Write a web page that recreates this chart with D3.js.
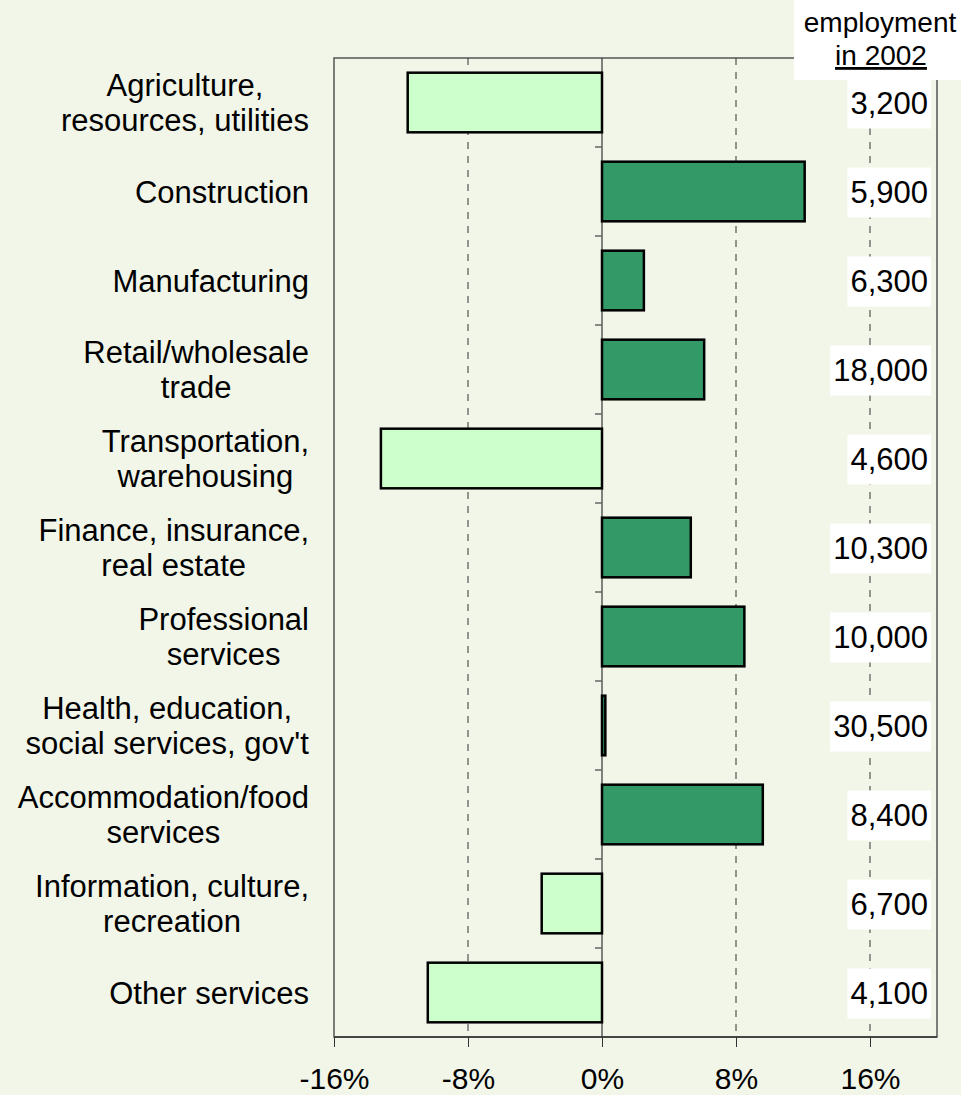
<!DOCTYPE html>
<html lang="en">
<head>
<meta charset="UTF-8">
<title>Employment change by industry</title>
<style>
    body { margin: 0; background: #f1f6e9; }
    svg { display: block; font-family: 'Liberation Sans', Arial, sans-serif; }
    .cat { font-size: 31px; fill: #000; }
</style>
</head>
<body>
<svg width="961" height="1095"></svg>
<script src="https://d3js.org/d3.v7.min.js"></script>
<script>
    // categories, change in employment (%) and 2002 employment
    const categories = [
        ["Agriculture,", "resources, utilities"],
        ["Construction"],
        ["Manufacturing"],
        ["Retail/wholesale", "trade"],
        ["Transportation,", "warehousing"],
        ["Finance, insurance,", "real estate"],
        ["Professional", "services"],
        ["Health, education,", "social services, gov't"],
        ["Accommodation/food", "services"],
        ["Information, culture,", "recreation"],
        ["Other services"]
    ];
    const change = [-11.6, 12.1, 2.5, 6.1, -13.2, 5.3, 8.5, 0.2, 9.6, -3.6, -10.4];
    const employment = ["3,200", "5,900", "6,300", "18,000", "4,600", "10,300", "10,000", "30,500", "8,400", "6,700", "4,100"];
    const xTicks = [-16, -8, 0, 8, 16];

    const svg = d3.select("svg");
    const m = { left: 334, right: 937, top: 58, bottom: 1037 };

    const x = d3.scaleLinear().domain([-16, 20]).range([m.left, m.right]);
    const y = d3.scaleBand().domain(d3.range(categories.length))
        .range([m.top, m.bottom]).paddingInner(0.33).paddingOuter(0.165);
    const step = y.step();

    // plot frame
    svg.append("rect")
        .attr("x", m.left).attr("y", m.top)
        .attr("width", m.right - m.left).attr("height", m.bottom - m.top)
        .attr("fill", "#f1f6e9").attr("stroke", "#555").attr("stroke-width", 1.5);

    // dashed grid
    svg.append("g").selectAll("line")
        .data(xTicks.filter(d => d !== 0 && d !== -16))
        .join("line")
        .attr("x1", d => x(d)).attr("x2", d => x(d))
        .attr("y1", m.top).attr("y2", m.bottom)
        .attr("stroke", "#333").attr("stroke-dasharray", "7,7");

    // zero line + category ticks
    svg.append("line")
        .attr("x1", x(0)).attr("x2", x(0)).attr("y1", m.top).attr("y2", m.bottom)
        .attr("stroke", "#333").attr("stroke-width", 1.2);
    svg.append("g").selectAll("line")
        .data(d3.range(1, categories.length))
        .join("line")
        .attr("x1", x(0) - 7).attr("x2", x(0))
        .attr("y1", d => m.top + d * step).attr("y2", d => m.top + d * step)
        .attr("stroke", "#666").attr("stroke-width", 1.5);

    // bars
    svg.append("g").selectAll("rect")
        .data(change)
        .join("rect")
        .attr("x", d => x(Math.min(0, d)))
        .attr("y", (d, i) => y(i))
        .attr("width", d => Math.abs(x(d) - x(0)))
        .attr("height", y.bandwidth())
        .attr("fill", d => d >= 0 ? "#339966" : "#ccffcc")
        .attr("stroke", "#000").attr("stroke-width", 2.5);

    // x axis
    const xAxis = svg.append("g")
        .attr("transform", `translate(0,${m.bottom})`)
        .call(d3.axisBottom(x).tickValues(xTicks).tickFormat(d => d + "%").tickSize(10).tickPadding(21));
    xAxis.select(".domain").remove();
    xAxis.selectAll("line").attr("stroke", "#333");
    xAxis.selectAll("text").attr("fill", "#000")
        .attr("font-size", 30).attr("font-family", "'Liberation Sans', Arial, sans-serif");
    svg.append("line").attr("x1", m.left).attr("x2", m.right)
        .attr("y1", m.bottom).attr("y2", m.bottom).attr("stroke", "#333").attr("stroke-width", 1.5);

    // category labels
    const lh = 35;
    const lab = svg.append("g").selectAll("text")
        .data(categories)
        .join("text")
        .attr("class", "cat")
        .attr("y", (d, i) => y(i) + y.bandwidth() / 2 + 11 - (d.length - 1) * lh / 2);
    lab.each(function (d) {
        const t = d3.select(this);
        d.forEach((line, k) => {
            t.append("tspan")
                .attr("text-anchor", "middle")
                .attr("x", 0)
                .attr("dy", k === 0 ? 0 : lh)
                .text(line);
        });
    });
    // right-align the block at x=309, lines centred among themselves
    lab.each(function () {
        const w = this.getBBox().width;
        d3.select(this).selectAll("tspan").attr("x", 309 - w / 2);
    });

    // employment boxes
    const eg = svg.append("g").selectAll("g")
        .data(employment)
        .join("g");
    eg.append("rect")
        .attr("y", (d, i) => y(i) + y.bandwidth() / 2 - 24)
        .attr("height", 50)
        .attr("fill", "#fff");
    eg.append("text")
        .attr("x", 928).attr("text-anchor", "end")
        .attr("y", (d, i) => y(i) + y.bandwidth() / 2 + 11)
        .attr("font-size", 31)
        .text(d => d);
    eg.select("rect").each(function () {
        const w = this.nextSibling.getComputedTextLength();
        d3.select(this).attr("x", 928 - w - 3).attr("width", w + 6);
    });

    // header
    svg.append("rect").attr("x", 794).attr("y", 0).attr("width", 167).attr("height", 80).attr("fill", "#fff");
    svg.append("text").attr("x", 880).attr("y", 32).attr("text-anchor", "middle")
        .attr("font-size", 28).text("employment");
    svg.append("text").attr("x", 881).attr("y", 65).attr("text-anchor", "middle")
        .attr("font-size", 28).attr("text-decoration", "underline").text("in 2002");
</script>
</body>
</html>
